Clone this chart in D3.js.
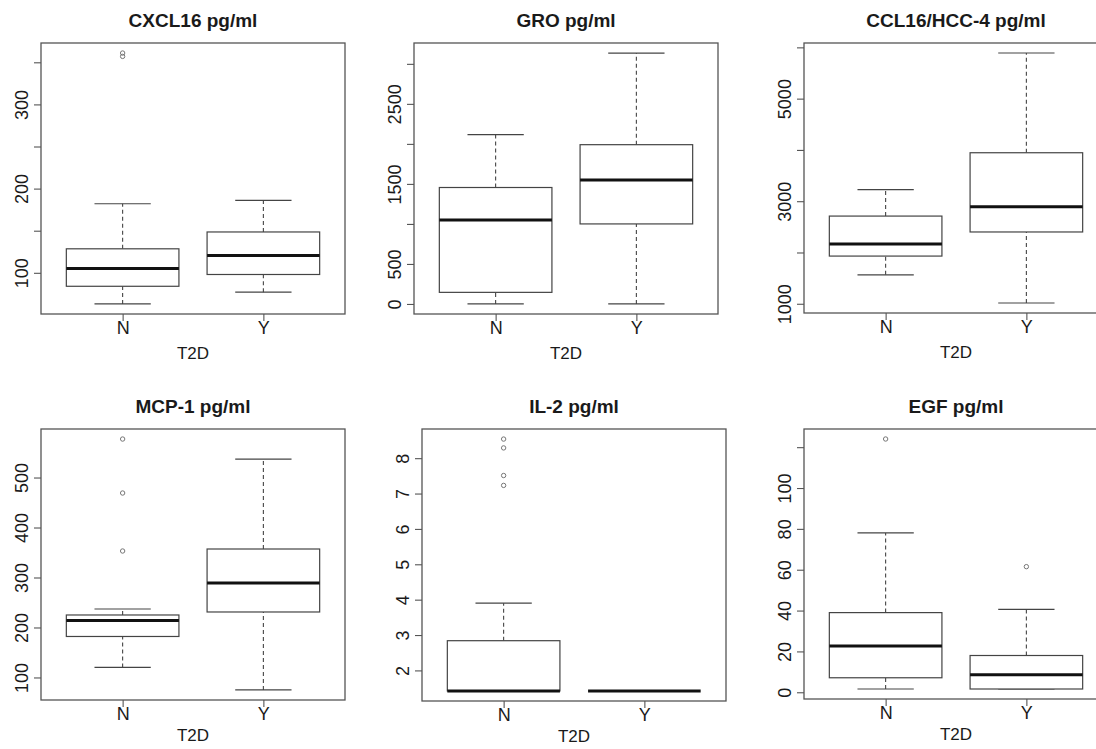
<!DOCTYPE html>
<html>
<head>
<meta charset="utf-8">
<script src="https://cdnjs.cloudflare.com/ajax/libs/d3/7.8.5/d3.min.js"></script>
<style>
  body { margin: 0; background: #fff; }
  svg { display: block; }
  text { font-family: "Liberation Sans", Arial, sans-serif; fill: #1a1a1a; }
</style>
</head>
<body>
<svg id="chart"></svg>
<script>
const width = 1096;
const height = 749;

const groups = ["N", "Y"];
const xLabel = "T2D";

// five-number summaries per group: [lower whisker, Q1, median, Q3, upper whisker]
const cxcl16Stats = [[63, 84, 105, 128.5, 182], [77, 98, 120.5, 148.5, 186]];
const cxcl16Outliers = [[361, 357], []];
const cxcl16Ticks = [100, 150, 200, 250, 300, 350];
const cxcl16Labels = [100, 200, 300];

const groStats = [[0, 145, 1050, 1455, 2115], [0, 1000, 1550, 1990, 3135]];
const groOutliers = [[], []];
const groTicks = [0, 500, 1000, 1500, 2000, 2500, 3000];
const groLabels = [0, 500, 1500, 2500];

const ccl16Stats = [[1565, 1930, 2165, 2710, 3225], [1015, 2400, 2890, 3945, 5890]];
const ccl16Outliers = [[], []];
const ccl16Ticks = [1000, 2000, 3000, 4000, 5000, 6000];
const ccl16Labels = [1000, 3000, 5000];

const mcp1Stats = [[120, 182, 214, 225, 237], [75, 231, 289, 357, 537]];
const mcp1Outliers = [[353, 469, 577], []];
const mcp1Ticks = [100, 200, 300, 400, 500];
const mcp1Labels = [100, 200, 300, 400, 500];

const il2Stats = [[1.42, 1.42, 1.42, 2.84, 3.9], [1.42, 1.42, 1.42, 1.42, 1.42]];
const il2Outliers = [[7.23, 7.51, 8.29, 8.54], []];
const il2Ticks = [2, 3, 4, 5, 6, 7, 8];
const il2Labels = [2, 3, 4, 5, 6, 7, 8];

const egfStats = [[1.6, 7.1, 22.6, 39, 78], [1.6, 1.6, 8.6, 18, 40.6]];
const egfOutliers = [[124], [61.5]];
const egfTicks = [0, 20, 40, 60, 80, 100, 120];
const egfLabels = [0, 20, 40, 60, 80, 100];

const panels = [
  { title: "CXCL16 pg/ml", stats: cxcl16Stats, outliers: cxcl16Outliers, ticks: cxcl16Ticks, labels: cxcl16Labels },
  { title: "GRO pg/ml", stats: groStats, outliers: groOutliers, ticks: groTicks, labels: groLabels },
  { title: "CCL16/HCC-4 pg/ml", stats: ccl16Stats, outliers: ccl16Outliers, ticks: ccl16Ticks, labels: ccl16Labels },
  { title: "MCP-1 pg/ml", stats: mcp1Stats, outliers: mcp1Outliers, ticks: mcp1Ticks, labels: mcp1Labels },
  { title: "IL-2 pg/ml", stats: il2Stats, outliers: il2Outliers, ticks: il2Ticks, labels: il2Labels },
  { title: "EGF pg/ml", stats: egfStats, outliers: egfOutliers, ticks: egfTicks, labels: egfLabels }
];

// plot regions (the third column runs off the right edge, as in the original)
const frames = [
  { x: 41, y: 43, w: 304, h: 271 },
  { x: 414, y: 43, w: 304, h: 271 },
  { x: 804, y: 43, w: 304, h: 270 },
  { x: 41, y: 429, w: 304, h: 271 },
  { x: 422, y: 429, w: 304, h: 272 },
  { x: 804, y: 429, w: 304, h: 270 }
];

const svg = d3.select("#chart")
    .attr("width", width)
    .attr("height", height);

panels.forEach((p, i) => {
  const f = frames[i];
  const g = svg.append("g");

  // R-style axis limits: data range padded by 4% each side
  const vals = p.stats.flat().concat(p.outliers.flat());
  const lo = d3.min(vals), hi = d3.max(vals), pad = (hi - lo) * 0.04;
  const y = d3.scaleLinear().domain([lo - pad, hi + pad]).range([f.y + f.h, f.y]);
  const x = d3.scaleLinear().domain([0.42, 2.58]).range([f.x, f.x + f.w]);

  // boxes
  p.stats.forEach((s, j) => {
    const c = j + 1;
    const box = g.append("g");

    // dashed whiskers
    [[s[3], s[4]], [s[0], s[1]]].forEach(([a, b]) => {
      if (a === b) return;
      box.append("line")
        .attr("x1", x(c)).attr("x2", x(c))
        .attr("y1", y(a)).attr("y2", y(b))
        .attr("stroke", "#444").attr("stroke-width", 1.1)
        .attr("stroke-dasharray", "4,3");
    });

    // whisker caps
    [s[0], s[4]].forEach(v => {
      box.append("line")
        .attr("x1", x(c - 0.2)).attr("x2", x(c + 0.2))
        .attr("y1", y(v)).attr("y2", y(v))
        .attr("stroke", "#444").attr("stroke-width", 1.2);
    });

    box.append("rect")
      .attr("x", x(c - 0.4))
      .attr("y", y(s[3]))
      .attr("width", x(c + 0.4) - x(c - 0.4))
      .attr("height", y(s[1]) - y(s[3]))
      .attr("fill", "#fff")
      .attr("stroke", "#444")
      .attr("stroke-width", 1.2);

    box.append("line")
      .attr("x1", x(c - 0.4)).attr("x2", x(c + 0.4))
      .attr("y1", y(s[2])).attr("y2", y(s[2]))
      .attr("stroke", "#111").attr("stroke-width", 3);

    box.selectAll("circle")
      .data(p.outliers[j])
      .enter().append("circle")
      .attr("cx", x(c))
      .attr("cy", d => y(d))
      .attr("r", 2.2)
      .attr("fill", "none")
      .attr("stroke", "#777")
      .attr("stroke-width", 1);
  });

  // frame
  g.append("rect")
    .attr("x", f.x).attr("y", f.y)
    .attr("width", f.w).attr("height", f.h)
    .attr("fill", "none")
    .attr("stroke", "#555")
    .attr("stroke-width", 1.3);

  // y axis, labels rotated like R's default
  const yAxis = g.append("g")
    .attr("transform", `translate(${f.x},0)`)
    .call(d3.axisLeft(y)
      .tickValues(p.ticks)
      .tickSize(7)
      .tickFormat(d => p.labels.includes(d) ? d : ""));
  yAxis.select(".domain").remove();
  yAxis.selectAll(".tick line").attr("stroke", "#555").attr("stroke-width", 1.1);
  yAxis.selectAll(".tick text")
    .attr("transform", "rotate(-90)")
    .attr("x", 0).attr("y", -13).attr("dy", null)
    .attr("text-anchor", "middle")
    .style("font-size", "18px");

  // x axis
  const xAxis = g.append("g")
    .attr("transform", `translate(0,${f.y + f.h})`)
    .call(d3.axisBottom(x)
      .tickValues([1, 2])
      .tickSize(7)
      .tickFormat(d => groups[d - 1]));
  xAxis.select(".domain").remove();
  xAxis.selectAll(".tick line").attr("stroke", "#555").attr("stroke-width", 1.1);
  xAxis.selectAll(".tick text")
    .attr("y", 20).attr("dy", null)
    .style("font-size", "18px");

  // axis title and panel title
  g.append("text")
    .attr("x", f.x + f.w / 2)
    .attr("y", f.y + f.h + (i < 3 ? 45 : 41))
    .attr("text-anchor", "middle")
    .style("font-size", "17px")
    .text(xLabel);

  g.append("text")
    .attr("x", f.x + f.w / 2)
    .attr("y", f.y - 16)
    .attr("text-anchor", "middle")
    .style("font-size", "19px")
    .style("font-weight", "bold")
    .text(p.title);
});
</script>
</body>
</html>
